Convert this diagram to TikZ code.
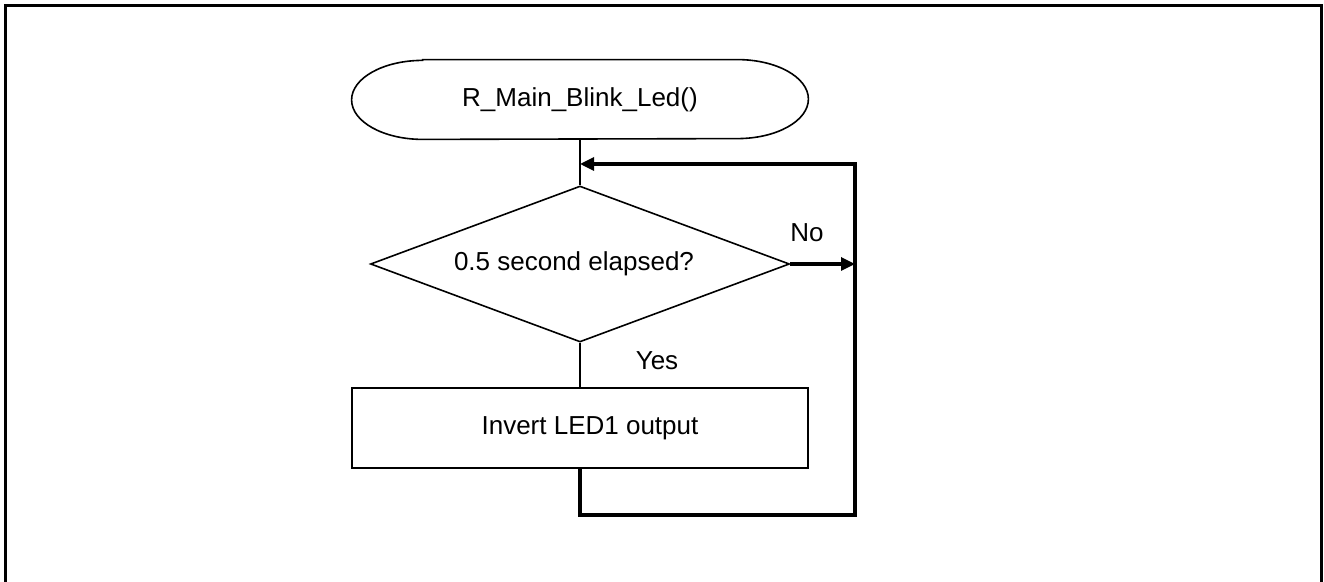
\documentclass[tikz,border=0pt]{standalone}
\usepackage{fontspec}
\setmainfont{Liberation Sans}
\usetikzlibrary{shapes.geometric,arrows.meta}
\begin{document}
\begin{tikzpicture}[x=0.5pt,y=-0.5pt,
  every node/.style={font=\fontsize{13}{15}\selectfont, inner sep=0pt},
  thinln/.style={line width=0.8pt},
  thickln/.style={line width=1.6pt},
  tip/.style={-{Triangle[length=7pt,width=6.5pt]}},
  decbox/.style={diamond, draw, thinln, aspect=2.7, minimum width=209.5pt, minimum height=78pt},
  actbox/.style={rectangle, draw, thinln, minimum width=228pt, minimum height=40pt},
  termbox/.style={rectangle, minimum width=228pt, minimum height=39.5pt}]
\useasboundingbox (0,0) rectangle (1324,582);
% outer frame
\draw[line width=1.5pt] (5,582) -- (5,6) -- (1321,6) -- (1321,582);
% terminal
\node[termbox] (term) at (580,99.5) {R\_Main\_Blink\_Led()};
\draw[thinln] ([xshift=35.5pt]term.north west) -- ([xshift=-35.5pt]term.north east)
  arc[start angle=90,end angle=-90,x radius=35.5pt,y radius=19.75pt]
  -- ([xshift=35.5pt]term.south west)
  arc[start angle=270,end angle=90,x radius=35.5pt,y radius=19.75pt] -- cycle;
% decision
\node[decbox] (dec) at (580,264) {\hspace*{-6pt}0.5 second elapsed?};
% action
\node[actbox] (act) at (580,428) {\hspace*{10pt}Invert LED1 output};
% labels
\node (no) at (807,233) {No};
\node (yes) at (657,361) {Yes};
% connectors
\coordinate (join) at (580,164);
\coordinate (rr) at (855,515);
\draw[thinln] (term.south) -- (dec.north);
\draw[thinln] (dec.south) -- (act.north);
\draw[thickln, tip] (dec.east) -- (dec.east -| rr);
\draw[thickln, tip] (act.south) |- (rr) |- (join);
\end{tikzpicture}
\end{document}
